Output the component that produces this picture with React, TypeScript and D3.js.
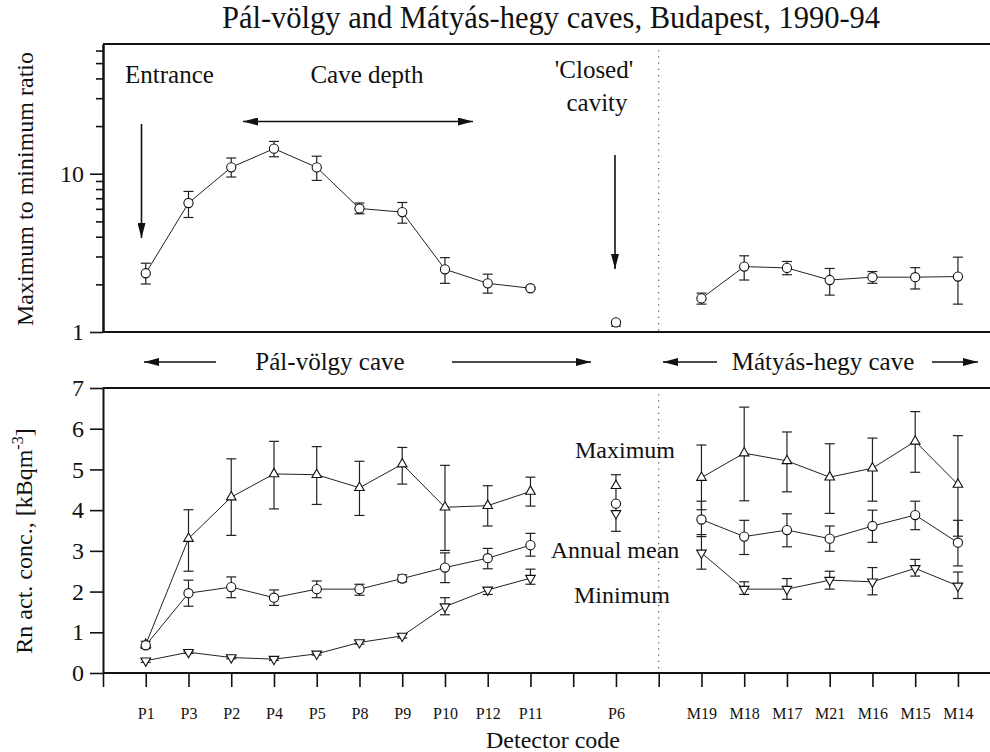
import React, { useEffect, useRef } from "react";
import * as d3 from "d3";

// x slots (tick labels), blanks are empty tick positions
const tickLabels = ["", "P1", "P3", "P2", "P4", "P5", "P8", "P9", "P10", "P12", "P11", "", "P6", "", "M19", "M18", "M17", "M21", "M16", "M15", "M14"];
const palCodes = ["P1", "P3", "P2", "P4", "P5", "P8", "P9", "P10", "P12", "P11"];
const closedCodes = ["P6"];
const matCodes = ["M19", "M18", "M17", "M21", "M16", "M15", "M14"];

// top panel: maximum to minimum ratio
const ratioPal = [2.35, 6.53, 10.97, 14.4, 10.96, 6.03, 5.72, 2.49, 2.03, 1.89];
const ratioPalLo = [2.01, 5.29, 9.53, 12.8, 9.07, 5.58, 4.87, 2.03, 1.76, 1.86];
const ratioPalHi = [2.72, 7.73, 12.57, 16.0, 12.9, 6.53, 6.58, 2.95, 2.32, 1.92];
const ratioClosed = [1.15];
const ratioClosedLo = [1.09];
const ratioClosedHi = [1.15];
const ratioMat = [1.63, 2.59, 2.54, 2.13, 2.22, 2.22, 2.24];
const ratioMatLo = [1.5, 2.13, 2.3, 1.71, 2.03, 1.87, 1.5];
const ratioMatHi = [1.76, 3.03, 2.79, 2.52, 2.41, 2.55, 2.97];

// bottom panel: Rn concentration, kBq/m3
const maxPal = [0.7, 3.3, 4.32, 4.89, 4.87, 4.55, 5.13, 4.07, 4.11, 4.46];
const maxPalLo = [0.7, 2.5, 3.38, 4.03, 4.14, 3.87, 4.64, 3.01, 3.61, 4.1];
const maxPalHi = [0.7, 4.01, 5.26, 5.69, 5.56, 5.2, 5.54, 5.1, 4.6, 4.81];
const meanPal = [0.68, 1.96, 2.11, 1.85, 2.06, 2.06, 2.32, 2.59, 2.82, 3.14];
const meanPalLo = [0.6, 1.64, 1.85, 1.66, 1.85, 1.91, 2.24, 2.22, 2.56, 2.87];
const meanPalHi = [0.78, 2.28, 2.36, 2.04, 2.26, 2.18, 2.41, 2.95, 3.06, 3.43];
const minPal = [0.3, 0.51, 0.38, 0.34, 0.47, 0.75, 0.91, 1.63, 2.04, 2.33];
const minPalLo = [0.26, 0.48, 0.35, 0.31, 0.44, 0.71, 0.86, 1.43, 1.93, 2.18];
const minPalHi = [0.34, 0.54, 0.41, 0.37, 0.5, 0.79, 0.96, 1.85, 2.08, 2.55];

const maxClosed = [4.6];
const meanClosed = [4.16];
const minClosed = [3.92];
const closedRange = [3.48, 4.87];

const maxMat = [4.8, 5.4, 5.21, 4.81, 5.03, 5.69, 4.63];
const maxMatLo = [4.01, 4.23, 4.45, 3.92, 4.22, 4.93, 3.36];
const maxMatHi = [5.6, 6.53, 5.92, 5.63, 5.77, 6.42, 5.83];
const meanMat = [3.77, 3.35, 3.51, 3.3, 3.61, 3.88, 3.2];
const meanMatLo = [3.35, 2.91, 3.1, 2.99, 3.21, 3.52, 2.63];
const meanMatHi = [4.22, 3.75, 3.91, 3.61, 4.0, 4.22, 3.75];
const minMat = [2.95, 2.06, 2.06, 2.28, 2.24, 2.57, 2.14];
const minMatLo = [2.55, 1.93, 1.81, 2.06, 1.92, 2.38, 1.83];
const minMatHi = [3.4, 2.24, 2.32, 2.5, 2.59, 2.79, 2.48];

const FONT = "'Liberation Serif', 'Times New Roman', serif";
const INK = "#111";

const App = () => {
  const chartRef = useRef<SVGSVGElement>(null);

  useEffect(() => {
    const width = 990;
    const height = 752;

    const svg = d3.select(chartRef.current);
    svg.selectAll("*").remove();
    svg.attr("width", width).attr("height", height).style("font-family", FONT);

    // scales
    const x = d3.scaleLinear().domain([0, 20.75]).range([103, 990]);
    const yTop = d3.scaleLog().domain([1, 66]).range([332, 44]);
    const yBot = d3.scaleLinear().domain([0, 7]).range([673, 388]);
    const pos = (c: string) => x(tickLabels.indexOf(c));

    // arrow head
    svg
      .append("defs")
      .append("marker")
      .attr("id", "head")
      .attr("markerUnits", "userSpaceOnUse")
      .attr("markerWidth", 15)
      .attr("markerHeight", 8)
      .attr("refX", 15)
      .attr("refY", 4)
      .attr("orient", "auto")
      .append("path")
      .attr("d", "M0,0 L15,4 L0,8 Z")
      .attr("fill", INK);

    const circleSym = d3.symbol(d3.symbolCircle, Math.PI * 4.6 * 4.6);
    const triSym = d3.symbol(d3.symbolTriangle, 40);

    const drawSeries = (
      codes: string[],
      vals: number[],
      lo: number[] | null,
      hi: number[] | null,
      y: any,
      kind: "circle" | "up" | "down",
      connect: boolean
    ) => {
      const g = svg.append("g");
      const pts = codes.map((c, i) => ({ x: pos(c), v: vals[i], lo: lo ? lo[i] : vals[i], hi: hi ? hi[i] : vals[i] }));
      if (connect && pts.length > 1) {
        g.append("path")
          .attr("d", d3.line<any>().x((d) => d.x).y((d) => y(d.v))(pts))
          .attr("fill", "none")
          .attr("stroke", "#222")
          .attr("stroke-width", 1);
      }
      // error bars
      pts.forEach((d) => {
        if (d.hi - d.lo < 1e-6) return;
        g.append("line")
          .attr("x1", d.x).attr("x2", d.x)
          .attr("y1", y(d.hi)).attr("y2", y(d.lo))
          .attr("stroke", "#222").attr("stroke-width", 1.2);
        if (d.hi > d.v + 1e-6)
          g.append("line").attr("x1", d.x - 5).attr("x2", d.x + 5)
            .attr("y1", y(d.hi)).attr("y2", y(d.hi)).attr("stroke", "#222").attr("stroke-width", 1.2);
        if (d.lo < d.v - 1e-6)
          g.append("line").attr("x1", d.x - 5).attr("x2", d.x + 5)
            .attr("y1", y(d.lo)).attr("y2", y(d.lo)).attr("stroke", "#222").attr("stroke-width", 1.2);
      });
      // markers
      g.selectAll("path.m")
        .data(pts)
        .join("path")
        .attr("class", "m")
        .attr("d", kind === "circle" ? circleSym() : triSym())
        .attr("transform", (d) => `translate(${d.x},${y(d.v)})${kind === "down" ? " rotate(180)" : ""}`)
        .attr("fill", "#fff")
        .attr("stroke", "#111")
        .attr("stroke-width", 1.1);
    };

    // ---------- top panel ----------
    const topMajor = d3.axisLeft(yTop).tickValues([1, 10]).tickSize(13).tickPadding(6).tickSizeOuter(0).tickFormat(d3.format("d") as any);
    const topMinor = d3.axisLeft(yTop).tickValues([2, 3, 4, 5, 6, 7, 8, 9, 20, 30, 40, 50, 60]).tickSize(7).tickSizeOuter(0).tickFormat(() => "");
    const gTopMinor = svg.append("g").attr("transform", `translate(${x(0)},0)`).call(topMinor);
    const gTopMajor = svg.append("g").attr("transform", `translate(${x(0)},0)`).call(topMajor);
    [gTopMinor, gTopMajor].forEach((g) => {
      g.select(".domain").attr("stroke", INK).attr("stroke-width", 2);
      g.selectAll(".tick line").attr("stroke", INK).attr("stroke-width", 1.6);
      g.selectAll(".tick text").attr("font-size", 24).attr("font-family", FONT).attr("fill", INK);
    });
    svg.append("line").attr("x1", x(0)).attr("x2", width).attr("y1", yTop(66)).attr("y2", yTop(66)).attr("stroke", INK).attr("stroke-width", 2);
    svg.append("line").attr("x1", x(0)).attr("x2", width).attr("y1", yTop(1)).attr("y2", yTop(1)).attr("stroke", INK).attr("stroke-width", 2);

    // ---------- bottom panel ----------
    const gBotY = svg.append("g").attr("transform", `translate(${x(0)},0)`)
      .call(d3.axisLeft(yBot).ticks(7).tickSize(13).tickPadding(6).tickSizeOuter(0));
    const gBotX = svg.append("g").attr("transform", `translate(0,${yBot(0)})`)
      .call(d3.axisBottom(x).tickValues(d3.range(0, 21)).tickSize(14).tickPadding(21).tickSizeOuter(0).tickFormat((i: any) => tickLabels[i]));
    [gBotY, gBotX].forEach((g) => {
      g.select(".domain").attr("stroke", INK).attr("stroke-width", 2);
      g.selectAll(".tick line").attr("stroke", INK).attr("stroke-width", 1.6);
      g.selectAll(".tick text").attr("font-family", FONT).attr("fill", INK);
    });
    gBotY.selectAll(".tick text").attr("font-size", 24);
    gBotX.selectAll(".tick text").attr("font-size", 16);
    gBotX.select(".domain").attr("d", `M${x(0)},0H${width}`);
    svg.append("line").attr("x1", x(0)).attr("x2", width).attr("y1", yBot(7)).attr("y2", yBot(7)).attr("stroke", INK).attr("stroke-width", 2);

    // dotted separators between the caves
    [[yTop(66), yTop(1)], [yBot(7), yBot(0)]].forEach(([a, b]) => {
      svg.append("line").attr("x1", x(13)).attr("x2", x(13)).attr("y1", a).attr("y2", b)
        .attr("stroke", "#333").attr("stroke-width", 1).attr("stroke-dasharray", "1.2,5");
    });

    // data, top
    drawSeries(palCodes, ratioPal, ratioPalLo, ratioPalHi, yTop, "circle", true);
    drawSeries(closedCodes, ratioClosed, ratioClosedLo, ratioClosedHi, yTop, "circle", false);
    drawSeries(matCodes, ratioMat, ratioMatLo, ratioMatHi, yTop, "circle", true);

    // data, bottom
    const px6 = pos("P6");
    svg.append("line").attr("x1", px6).attr("x2", px6).attr("y1", yBot(closedRange[1])).attr("y2", yBot(closedRange[0])).attr("stroke", "#222").attr("stroke-width", 1.2);
    closedRange.forEach((v) =>
      svg.append("line").attr("x1", px6 - 5).attr("x2", px6 + 5).attr("y1", yBot(v)).attr("y2", yBot(v)).attr("stroke", "#222").attr("stroke-width", 1.2)
    );
    drawSeries(palCodes, maxPal, maxPalLo, maxPalHi, yBot, "up", true);
    drawSeries(palCodes, meanPal, meanPalLo, meanPalHi, yBot, "circle", true);
    drawSeries(palCodes, minPal, minPalLo, minPalHi, yBot, "down", true);
    drawSeries(closedCodes, maxClosed, null, null, yBot, "up", false);
    drawSeries(closedCodes, meanClosed, null, null, yBot, "circle", false);
    drawSeries(closedCodes, minClosed, null, null, yBot, "down", false);
    drawSeries(matCodes, maxMat, maxMatLo, maxMatHi, yBot, "up", true);
    drawSeries(matCodes, meanMat, meanMatLo, meanMatHi, yBot, "circle", true);
    drawSeries(matCodes, minMat, minMatLo, minMatHi, yBot, "down", true);

    // ---------- texts ----------
    const text = (tx: number, ty: number, s: string, size: number, anchor = "middle") =>
      svg.append("text").attr("x", tx).attr("y", ty).attr("text-anchor", anchor)
        .attr("font-size", size).attr("fill", INK).text(s);

    text(551, 28, "Pál-völgy and Mátyás-hegy caves, Budapest, 1990-94", 30.5);
    text(125, 83, "Entrance", 25, "start");
    text(367, 83, "Cave depth", 25);
    text(594, 78, "'Closed'", 25);
    text(597, 111, "cavity", 25);
    text(330, 370, "Pál-völgy cave", 25);
    text(823, 370, "Mátyás-hegy cave", 25);
    text(625, 458, "Maximum", 24);
    text(615, 558, "Annual mean", 24);
    text(622, 603, "Minimum", 24);
    text(553, 748, "Detector code", 24);

    svg.append("text").attr("transform", "translate(33,189) rotate(-90)").attr("text-anchor", "middle")
      .attr("font-size", 24).attr("fill", INK).text("Maximum to minimum ratio");
    const yl = svg.append("text").attr("transform", "translate(32,541) rotate(-90)").attr("text-anchor", "middle")
      .attr("font-size", 24).attr("fill", INK);
    yl.append("tspan").text("Rn act. conc., [kBqm");
    yl.append("tspan").attr("dy", -9).attr("font-size", 16).text("-3");
    yl.append("tspan").attr("dy", 9).text("]");

    // ---------- arrows ----------
    const arrow = (x1: number, y1: number, x2: number, y2: number) =>
      svg.append("line").attr("x1", x1).attr("y1", y1).attr("x2", x2).attr("y2", y2)
        .attr("stroke", INK).attr("stroke-width", 1.6).attr("marker-end", "url(#head)");
    arrow(141.5, 124, 141.5, 238);
    arrow(358, 121.5, 473, 121.5);
    arrow(358, 121.5, 243, 121.5);
    arrow(615, 155, 615, 269);
    arrow(216, 362, 144, 362);
    arrow(452, 362, 591, 362);
    arrow(717, 362, 663, 362);
    arrow(932, 362, 978, 362);
  }, []);

  return (
    <div style={{ position: "absolute", left: 0, top: 0 }}>
      <svg ref={chartRef}></svg>
    </div>
  );
};

export default App;
